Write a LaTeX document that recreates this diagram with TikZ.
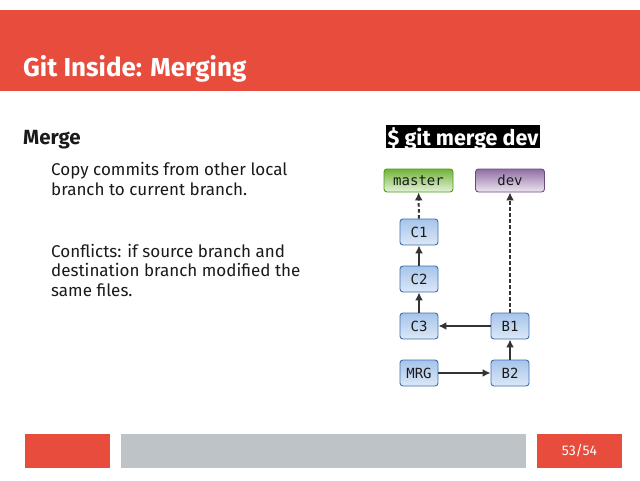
\documentclass[tikz,border=0pt]{standalone}
\usepackage{fontspec}
\setmainfont{Fira Sans}
\setmonofont{DejaVu Sans Mono}
\usetikzlibrary{arrows.meta}

\definecolor{slidered}{HTML}{E74C3C}
\definecolor{slidegray}{HTML}{BDC3C7}
\definecolor{bodytext}{HTML}{1A1A1A}
\definecolor{commitline}{HTML}{3F6FAE}
\definecolor{committop}{HTML}{A6C4EA}
\definecolor{commitbottom}{HTML}{DCE8F7}
\definecolor{masterline}{HTML}{4F9A1C}
\definecolor{mastertop}{HTML}{72B43A}
\definecolor{masterbottom}{HTML}{E4F2D8}
\definecolor{devline}{HTML}{6B4A7E}
\definecolor{devtop}{HTML}{8F6FA2}
\definecolor{devbottom}{HTML}{EDE5F1}

\begin{document}
\begin{tikzpicture}[x = 1pt, y = -1pt,
    commit/.style = {draw = commitline, rounded corners = 3pt, line width = 0.9pt,
        top color = committop, bottom color = commitbottom,
        minimum width = 38pt, minimum height = 26pt, inner sep = 0pt,
        font = \ttfamily\fontsize{14}{14}\selectfont, text = bodytext},
    branch/.style = {rounded corners = 3pt, line width = 0.9pt,
        minimum width = 69pt, minimum height = 23pt, inner sep = 0pt,
        font = \ttfamily\fontsize{14}{14}\selectfont, text = bodytext},
    parent/.style = {draw = black!80, line width = 1.6pt, -{Latex[length = 8pt, width = 8pt]}},
    pointer/.style = {parent, line width = 2pt, dash pattern = on 3.5pt off 2.5pt}]
        \useasboundingbox (0,0) rectangle (640,480);
        \fill[white] (0,0) rectangle (640,480);

        % header
        \fill[slidered] (0,10) rectangle (640,91);
        \node[anchor = base west, inner sep = 0pt, text = white, font = \bfseries\fontsize{26}{30}\selectfont]
            (title) at (23,76) {Git Inside: Merging};

        % left column
        \node[anchor = base west, inner sep = 0pt, text = bodytext, font = \bfseries\fontsize{20.5}{24}\selectfont]
            (merge) at (23,144) {Merge};
        \node[anchor = base west, text = bodytext, align = left, inner sep = 0pt,
            font = \fontsize{17}{19.5}\selectfont]
            (copy) at (51,195) {Copy commits from other local\\branch to current branch.};
        \node[anchor = base west, text = bodytext, align = left, inner sep = 0pt,
            font = \fontsize{17}{19.5}\selectfont]
            (conflicts) at (51,296) {Conflicts: if source branch and\\destination branch modified the\\same files.};

        % command
        \fill[black] (386,125) rectangle (540,148);
        \node[anchor = base, inner sep = 0pt, text = white, font = \bfseries\fontsize{21.5}{24}\selectfont]
            (cmd) at (463,145) {\$ git merge dev};

        % branches
        \node[branch, draw = masterline, top color = mastertop, bottom color = masterbottom]
            (master) at (418.5,180.5) {master};
        \node[branch, draw = devline, top color = devtop, bottom color = devbottom]
            (dev) at (510,180.5) {dev};

        % commits
        \node[commit] (C1) at (419,232) {C1};
        \node[commit] (C2) at (419,279) {C2};
        \node[commit] (C3) at (419,326) {C3};
        \node[commit] (B1) at (510,326) {B1};
        \node[commit] (MRG) at (419,373) {MRG};
        \node[commit] (B2) at (510,373) {B2};

        \draw[pointer] (C1) -- (master);
        \draw[pointer] (B1) -- (dev);
        \draw[parent] (C2) -- (C1);
        \draw[parent] (C3) -- (C2);
        \draw[parent] (B1) -- (C3);
        \draw[parent] (B2) -- (B1);
        \draw[parent] (MRG) -- (B2);

        % footer
        \fill[slidered] (25,434) rectangle (110,468);
        \fill[slidegray] (121,434) rectangle (526,468);
        \fill[slidered] (537,434) rectangle (622,468);
        \node[text = white, font = \fontsize{14}{16}\selectfont] (page) at (579.5,451) {53/54};
    \end{tikzpicture}
\end{document}
